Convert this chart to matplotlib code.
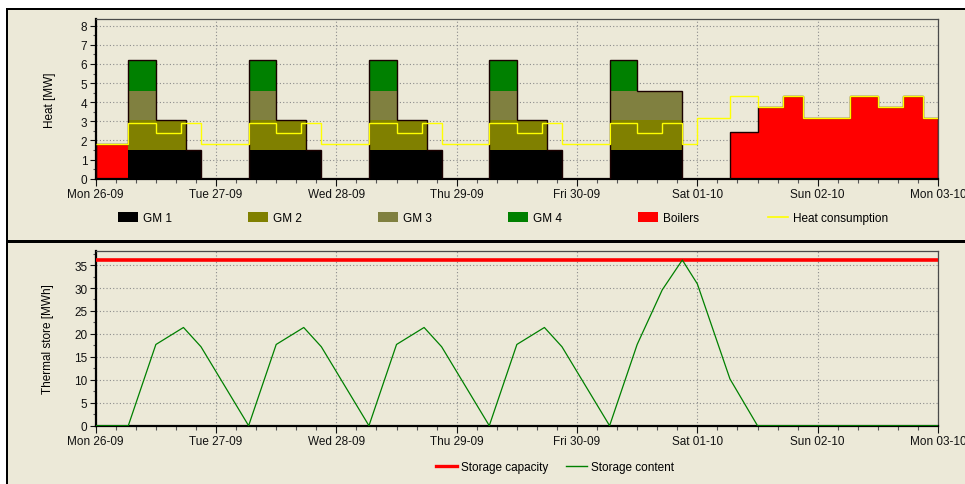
import matplotlib
matplotlib.use('Agg')
import matplotlib.pyplot as plt
from matplotlib.patches import Patch, Rectangle
from matplotlib.lines import Line2D
from matplotlib.ticker import AutoMinorLocator, MultipleLocator
import numpy as np

plt.rcParams['font.family'] = ['Liberation Sans', 'DejaVu Sans']

# hours since Mon 26-09 00:00
edges = [0, 6.5, 12, 17, 18, 21, 30.5, 36, 41, 42, 45, 54.5, 60, 65, 66, 69,
         78.5, 84, 89, 90, 93, 102.5, 108, 113, 114, 117, 120, 126.5, 132,
         137, 141, 144, 150.5, 156, 161, 165, 168]

gm1 = [0, 1.5, 1.5, 1.5, 1.5, 0, 1.5, 1.5, 1.5, 1.5, 0, 1.5, 1.5, 1.5, 1.5,
       0, 1.5, 1.5, 1.5, 1.5, 0, 1.5, 1.5, 1.5, 1.5,
       0, 0, 0, 0, 0, 0, 0, 0, 0, 0, 0]
gm2 = [0, 1.55, 1.55, 1.55, 0, 0, 1.55, 1.55, 1.55, 0, 0, 1.55, 1.55, 1.55, 0,
       0, 1.55, 1.55, 1.55, 0, 0, 1.55, 1.55, 1.55, 1.55,
       0, 0, 0, 0, 0, 0, 0, 0, 0, 0, 0]
gm3 = [0, 1.55, 0, 0, 0, 0, 1.55, 0, 0, 0, 0, 1.55, 0, 0, 0,
       0, 1.55, 0, 0, 0, 0, 1.55, 1.55, 1.55, 1.55,
       0, 0, 0, 0, 0, 0, 0, 0, 0, 0, 0]
gm4 = [0, 1.6, 0, 0, 0, 0, 1.6, 0, 0, 0, 0, 1.6, 0, 0, 0,
       0, 1.6, 0, 0, 0, 0, 1.6, 0, 0, 0,
       0, 0, 0, 0, 0, 0, 0, 0, 0, 0, 0]
boilers = [1.8, 0, 0, 0, 0, 0, 0, 0, 0, 0, 0, 0, 0, 0, 0,
           0, 0, 0, 0, 0, 0, 0, 0, 0, 0,
           0, 0, 2.45, 3.75, 4.3, 3.15, 3.15, 4.3, 3.75, 4.3, 3.15]
consumption = [1.8, 2.9, 2.38, 2.9, 2.9, 1.8, 2.9, 2.38, 2.9, 2.9, 1.8,
               2.9, 2.38, 2.9, 2.9, 1.8, 2.9, 2.38, 2.9, 2.9, 1.8,
               2.9, 2.38, 2.9, 2.9, 1.8,
               3.15, 4.3, 3.75, 4.3, 3.15, 3.15, 4.3, 3.75, 4.3, 3.15]

store_t = [0, 6.5, 12, 17.5, 21, 30.5, 36, 41.5, 45, 54.5, 60, 65.5, 69,
           78.5, 84, 89.5, 93, 102.5, 108, 113, 117, 120, 126.5, 132, 168]
store_v = [0, 0, 17.7, 21.4, 17.2, 0, 17.7, 21.4, 17.2, 0, 17.7, 21.4, 17.2,
           0, 17.7, 21.4, 17.2, 0, 17.7, 29.6, 36.1, 30.9, 10.2, 0, 0]
storage_capacity = 36.1

day_ticks = [0, 24, 48, 72, 96, 120, 144, 168]
day_labels = ['Mon 26-09', 'Tue 27-09', 'Wed 28-09', 'Thu 29-09',
              'Fri 30-09', 'Sat 01-10', 'Sun 02-10', 'Mon 03-10']

bg = '#ECE9D8'
W, H = 965, 485
fig = plt.figure(figsize=(W / 100, H / 100), dpi=100, facecolor=bg)

# frame decoration (white strips + black separators)
def px_rect(x0, y0, x1, y1, color):
    fig.add_artist(Rectangle((x0 / W, 1 - y1 / H), (x1 - x0) / W, (y1 - y0) / H,
                             transform=fig.transFigure, color=color, lw=0, zorder=-5))

px_rect(0, 0, W, 9, 'white')
px_rect(0, 0, 6, H, 'white')
px_rect(6, 9, W, 11, 'black')
px_rect(6, 9, 8, H, 'black')
px_rect(6, 241, W, 244, 'black')

ax1 = fig.add_axes([95.7 / W, 1 - 179.7 / H, 842.3 / W, 159.7 / H])
ax2 = fig.add_axes([95.7 / W, 1 - 426.7 / H, 842.3 / W, 174.4 / H])

def style(ax):
    ax.set_facecolor(bg)
    ax.set_axisbelow(True)
    ax.grid(True, which='major', linestyle=(0, (1, 2)), color='#8c8c8c', lw=0.8)
    for s in ['left', 'bottom']:
        ax.spines[s].set_color('black')
        ax.spines[s].set_linewidth(1.6)
    for s in ['top', 'right']:
        ax.spines[s].set_color('#4a4a4a')
        ax.spines[s].set_linewidth(0.9)
    ax.set_xlim(0, 168)
    ax.set_xticks(day_ticks)
    ax.set_xticklabels(day_labels)
    ax.xaxis.set_minor_locator(MultipleLocator(4))
    ax.tick_params(axis='x', which='major', length=5, width=0.8, labelsize=8.5, pad=2, colors='#111111')
    ax.tick_params(axis='x', which='minor', length=3, width=0.8, color='#555555')
    ax.tick_params(axis='y', which='major', length=4, width=0.8, labelsize=8.5, pad=2, colors='#111111')
    ax.tick_params(axis='y', which='minor', length=2, width=0.8, color='#555555')
    ax.yaxis.set_minor_locator(AutoMinorLocator(2))

style(ax1)
style(ax2)

# top: stacked production
series = [(gm1, '#000000', 'GM 1'), (gm2, '#808000', 'GM 2'),
          (gm3, '#808040', 'GM 3'), (gm4, '#008000', 'GM 4'),
          (boilers, '#FF0000', 'Boilers')]
base = np.zeros(len(gm1))
handles = []
for vals, c, lab in series:
    top = base + np.array(vals)
    ax1.stairs(top, edges, baseline=base, fill=True, color=c, lw=0, zorder=2)
    base = top
    handles.append(Patch(facecolor=c, edgecolor='none', label=lab))
ax1.stairs(base, edges, baseline=0, fill=False, color='#1a0000', lw=1.0, zorder=3)
ax1.stairs(consumption, edges, baseline=None, fill=False, color='#FFFF00', lw=1.0, zorder=4)
handles.append(Line2D([], [], color='#FFFF00', lw=1.2, label='Heat consumption'))

ax1.set_ylim(0, 8.35)
ax1.set_yticks(range(0, 9))
ax1.set_ylabel('Heat [MW]', fontsize=8.5)
ax1.yaxis.set_label_coords(-0.047, 0.5)

# bottom: storage
ax2.axhline(storage_capacity, color='#FF0000', lw=2.6, zorder=3)
ax2.plot(store_t, store_v, color='#008000', lw=0.9, zorder=4)
ax2.set_ylim(0, 38)
ax2.set_yticks(range(0, 40, 5))
ax2.set_ylabel('Thermal store [MWh]', fontsize=8.5)
ax2.yaxis.set_label_coords(-0.05, 0.5)

for i, h in enumerate(handles):
    fig.legend([h], [h.get_label()], loc='center left',
               bbox_to_anchor=((118 + 130 * i) / W, 1 - 219 / H),
               frameon=False, fontsize=8.5, handlelength=1.7, handleheight=0.85,
               handletextpad=0.45, borderpad=0, borderaxespad=0)

bottom_handles = [Line2D([], [], color='#FF0000', lw=2.4, label='Storage capacity'),
                  Line2D([], [], color='#008000', lw=1.0, label='Storage content')]
for i, h in enumerate(bottom_handles):
    fig.legend([h], [h.get_label()], loc='center left',
               bbox_to_anchor=((436 + 130 * i) / W, 1 - 468 / H),
               frameon=False, fontsize=8.5, handlelength=1.8,
               handletextpad=0.35, borderpad=0, borderaxespad=0)

plt.savefig('out.png', dpi=100, facecolor=bg)
